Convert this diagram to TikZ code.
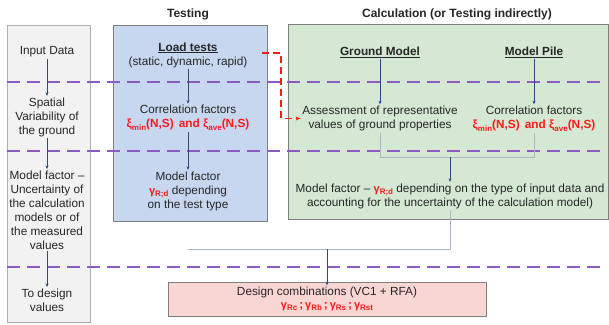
\documentclass[tikz,border=0pt]{standalone}
\usepackage{fontspec}
\setmainfont{Liberation Sans}
\usetikzlibrary{arrows.meta}
\definecolor{grayfill}{HTML}{F2F2F2}
\definecolor{grayline}{HTML}{B0B0B0}
\definecolor{bluefill}{HTML}{C6D7EF}
\definecolor{greenfill}{HTML}{D4E8D3}
\definecolor{redfill}{HTML}{F8D6D3}
\definecolor{boxline}{HTML}{7F7F7F}
\definecolor{purpdash}{HTML}{8A5CC2}
\definecolor{navy}{HTML}{2F4A7A}
\definecolor{conn}{HTML}{A9B6C8}
\definecolor{txtred}{HTML}{FF1A1A}
\definecolor{txt}{HTML}{262626}
\newcommand{\lsub}[1]{\raisebox{-0.22em}{\fontsize{8}{8}\selectfont\bfseries #1}}
\newcommand{\xifac}{\textcolor{txtred}{\bfseries ξ\lsub{min}(N,S)\ \,and ξ\lsub{ave}(N,S)}}
\newcommand{\gsm}[1]{\textcolor{txtred}{\fontsize{11}{11}\selectfont\bfseries γ\lsub{#1}}}
\begin{document}
\begin{tikzpicture}[x=1pt,y=-1pt,
  panel/.style={draw=#1, line width=0.9pt, anchor=north west, inner sep=0pt},
  lbl/.style={align=center, text=txt, font=\fontsize{11.8}{14}\selectfont, inner sep=1.5pt},
  head/.style={text=txt, font=\fontsize{12}{14}\selectfont\bfseries},
  arr/.style={draw=navy, line width=0.5pt, -{Stealth[length=3.5pt,width=3pt]}},
  cline/.style={draw=conn, line width=0.7pt},
  divider/.style={draw=purpdash, line width=1.6pt, dash pattern=on 13pt off 7pt},
  reddash/.style={draw=txtred, line width=1.2pt, dash pattern=on 7pt off 4pt, -{Stealth[length=5pt,width=4pt]}}]
\useasboundingbox (0,0) rectangle (609,324);
% panels
\node[panel=grayline, fill=grayfill, minimum width=83pt, minimum height=297pt] (colL) at (7,25) {};
\node[panel=boxline, fill=bluefill, minimum width=154pt, minimum height=196pt] (colT) at (113,25) {};
\node[panel=boxline, fill=greenfill, minimum width=320pt, minimum height=195pt] (colC) at (288,24) {};
\node[panel=boxline, fill=redfill, minimum width=318pt, minimum height=34pt] (colD) at (168,282) {};
% headers
\node[head] (hT) at (188,14) {Testing};
\node[head] (hC) at (457,14) {Calculation (or Testing indirectly)};
% dividers
\coordinate (d1a) at (7,82);  \coordinate (d1b) at (607,82);
\coordinate (d2a) at (7,151); \coordinate (d2b) at (607,151);
\coordinate (d3a) at (7,267); \coordinate (d3b) at (607,267);
\draw[divider] (d1a) -- (d1b);
\draw[divider] (d2a) -- (d2b);
\draw[divider] (d3a) -- (d3b);
% left column
\node[lbl] (in1) at (47,52) {Input Data};
\node[lbl] (in2) at (47,117) {Spatial\\Variability of\\the ground};
\node[lbl] (in3) at (47,210) {Model factor –\\Uncertainty of\\the calculation\\models or of\\the measured\\values};
\node[lbl] (in4) at (47,300) {To design\\values};
\draw[arr] (in1) -- (in2);
\draw[arr] (in2) -- (in3);
\draw[arr] (in3) -- (in4);
% testing column
\node[lbl] (lt) at (188,55) {\underline{\bfseries Load tests}\\(static, dynamic, rapid)};
\node[lbl] (cf1) at (188,118) {Correlation factors\\\xifac};
\node[lbl] (mf1) at (188,191) {Model factor\\\gsm{R;d} depending\\on the test type};
\draw[arr] (lt) -- (cf1);
\draw[arr] (cf1) -- (mf1);
% calculation column
\node[lbl] (gm) at (380,52) {\underline{\bfseries Ground Model}};
\node[lbl] (mp) at (534,52) {\underline{\bfseries Model Pile}};
\node[lbl] (as) at (380,118.5) {Assessment of representative\\values of ground properties};
\node[lbl] (cf2) at (534,118.5) {Correlation factors\\\xifac};
\node[lbl] (mf2) at (450,196) {Model factor – \gsm{R;d} depending on the type of input data and\\accounting for the uncertainty of the calculation model)};
\draw[arr] (gm) -- (as);
\draw[arr] (mp) -- (cf2);
\coordinate (jl) at (380,157);
\coordinate (jr) at (534,157);
\coordinate (jm) at (450,157);
\draw[cline] (as.south) -- (jl) -- (jr) -- (cf2.south);
\draw[arr] (jm) -- (mf2.north);
% design
\node[lbl] (dc) at (327,299) {Design combinations (VC1 + RFA)\\[-1pt]\gsm{Rc}\,\textcolor{txtred}{\bfseries ;}\,\gsm{Rb}\,\textcolor{txtred}{\bfseries ;}\,\gsm{Rs}\,\textcolor{txtred}{\bfseries ;}\,\gsm{Rst}};
\coordinate (bm) at (450,249);
\coordinate (bl) at (188,249);
\coordinate (bd) at (327,249);
\draw[cline] (mf2.south) -- (bm) -- (bl);
\draw[arr] (bd) -- (dc.north);
% red dashed link
\coordinate (rs) at (262,53);
\coordinate (rk) at (281,53);
\draw[reddash] (rs) -- (rk) |- (as.west);
\end{tikzpicture}
\end{document}
